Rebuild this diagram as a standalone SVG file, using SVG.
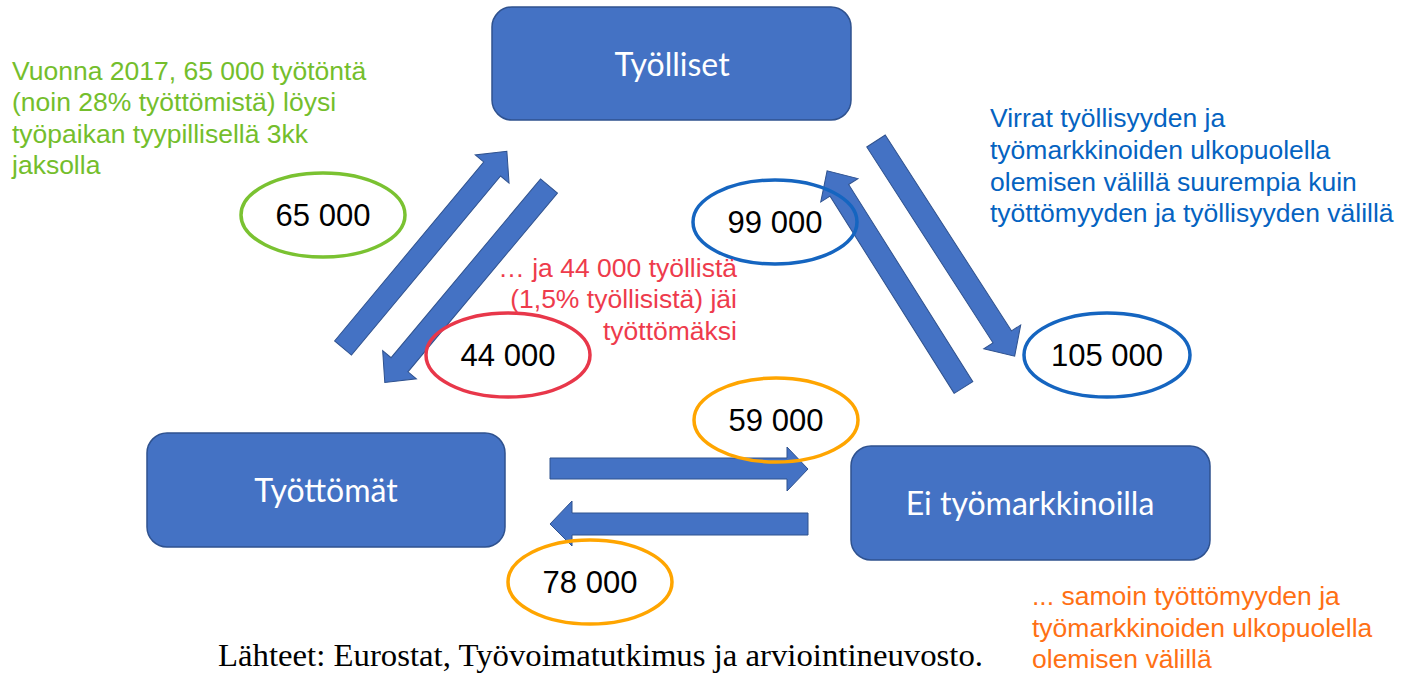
<svg xmlns="http://www.w3.org/2000/svg" width="1402" height="676" viewBox="0 0 1402 676">
<style>
.box{fill:#4472C4;stroke:#2F528F;stroke-width:1.5}
.lbl{font-family:Lato,"Open Sans",sans-serif;font-size:32px;fill:#fff;text-anchor:middle}
.arr{fill:#4472C4;stroke:#2F528F;stroke-width:1}
.ell{fill:none;stroke-width:3.5}
.num{font-family:"Liberation Sans",Arial,sans-serif;font-size:31px;fill:#000;text-anchor:middle}
.note{font-family:"Liberation Sans",Arial,sans-serif;font-size:26.5px}
</style>
<defs>
<polygon id="ar" points="0,-11 -233,-11 -233,-22 -256,0 -233,22 -233,11 0,11" transform="scale(-1,1)"/>
</defs>
<rect width="1402" height="676" fill="#fff"/>

<g id="node-tyolliset">
<rect class="box" x="492" y="7" width="359" height="113" rx="20"/>
<text class="lbl" x="672" y="76">Työlliset</text>
</g>
<g id="node-tyottomat">
<rect class="box" x="147" y="433" width="358" height="114" rx="20"/>
<text class="lbl" x="326" y="502">Työttömät</text>
</g>
<g id="node-ei">
<rect class="box" x="851" y="446" width="359" height="114" rx="20"/>
<text class="lbl" x="1030" y="515">Ei työmarkkinoilla</text>
</g>

<g id="connectors">
<use class="arr" href="#ar" transform="translate(343,348) rotate(-50.2)"/>
<use class="arr" href="#ar" transform="translate(549,186) rotate(129.9)"/>
<use class="arr" href="#ar" transform="translate(876,141) rotate(57.2)"/>
<use class="arr" href="#ar" transform="translate(963.5,387.5) rotate(-122.2)"/>
<polygon class="arr" points="550,458 787,458 787,447 808,469 787,491 787,479 550,479"/>
<polygon class="arr" points="808,513 572,513 572,501 550,524 572,546 572,535 808,535"/>
</g>

<g id="label-65000">
<ellipse class="ell" cx="323" cy="215" rx="82" ry="42" stroke="#7AC231"/>
<text class="num" x="323" y="226">65 000</text>
</g>
<g id="label-44000">
<ellipse class="ell" cx="508" cy="355" rx="82" ry="42" stroke="#E8374A"/>
<text class="num" x="508" y="366">44 000</text>
</g>
<g id="label-99000">
<ellipse class="ell" cx="775" cy="222" rx="82" ry="42" stroke="#1565C0"/>
<text class="num" x="775" y="233">99 000</text>
</g>
<g id="label-105000">
<ellipse class="ell" cx="1107" cy="355" rx="83" ry="42" stroke="#1565C0"/>
<text class="num" x="1107" y="366">105 000</text>
</g>
<g id="label-59000">
<ellipse class="ell" cx="776" cy="420" rx="82" ry="42" stroke="#FFA500"/>
<text class="num" x="776" y="431">59 000</text>
</g>
<g id="label-78000">
<ellipse class="ell" cx="590" cy="582" rx="82" ry="42" stroke="#FFA500"/>
<text class="num" x="590" y="593">78 000</text>
</g>

<g id="note-green" class="note" fill="#74BE2C">
<text x="12" y="80">Vuonna 2017, 65 000 työtöntä</text>
<text x="12" y="111">(noin 28% työttömistä) löysi</text>
<text x="12" y="143">työpaikan tyypillisellä 3kk</text>
<text x="12" y="174">jaksolla</text>
</g>
<g id="note-red" class="note" fill="#EE3B4C" text-anchor="end">
<text x="737" y="277">… ja 44 000 työllistä</text>
<text x="737" y="308">(1,5% työllisistä) jäi</text>
<text x="737" y="340">työttömäksi</text>
</g>
<g id="note-blue" class="note" fill="#0563C1">
<text x="990" y="127">Virrat työllisyyden ja</text>
<text x="990" y="159">työmarkkinoiden ulkopuolella</text>
<text x="990" y="191">olemisen välillä suurempia kuin</text>
<text x="990" y="222">työttömyyden ja työllisyyden välillä</text>
</g>
<g id="note-orange" class="note" fill="#FF7014">
<text x="1032" y="605">... samoin työttömyyden ja</text>
<text x="1032" y="637">työmarkkinoiden ulkopuolella</text>
<text x="1032" y="668">olemisen välillä</text>
</g>
<text x="218" y="666" font-family="'Liberation Serif','Times New Roman',serif" font-size="32.5" textLength="765" lengthAdjust="spacingAndGlyphs" fill="#000">Lähteet: Eurostat, Työvoimatutkimus ja arviointineuvosto.</text>
</svg>
